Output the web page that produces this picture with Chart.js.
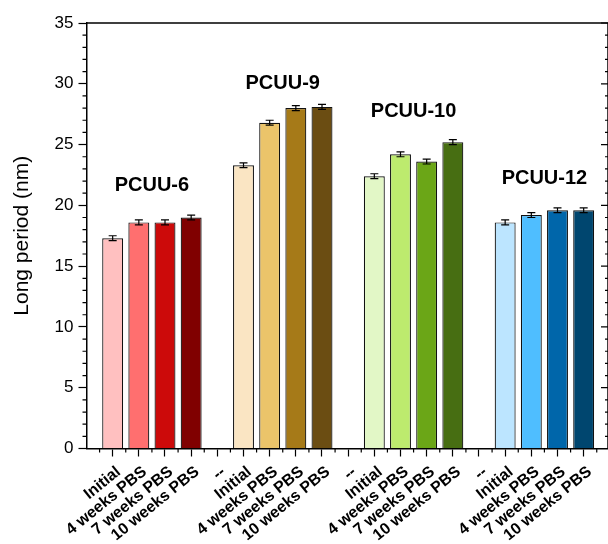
<!DOCTYPE html>
<html>
<head>
<meta charset="utf-8">
<script src="https://cdn.jsdelivr.net/npm/chart.js@4.4.1/dist/chart.umd.min.js"></script>
<style>
  html, body { margin: 0; padding: 0; background: #fff; }
  #wrap { width: 608px; height: 544px; }
</style>
</head>
<body>
<div id="wrap"><canvas id="chart" width="608" height="544"></canvas></div>
<script>
// categories along the x axis ("--" slots separate the groups)
const xLabels = [
    'Initial', '4 weeks PBS', '7 weeks PBS', '10 weeks PBS', '--',
    'Initial', '4 weeks PBS', '7 weeks PBS', '10 weeks PBS', '--',
    'Initial', '4 weeks PBS', '7 weeks PBS', '10 weeks PBS', '--',
    'Initial', '4 weeks PBS', '7 weeks PBS', '10 weeks PBS'
];
const groupNames = ['PCUU-6', 'PCUU-9', 'PCUU-10', 'PCUU-12'];

// long period (nm) per sample, and its error
const pcuu6 = [17.3, 18.6, 18.6, 19.0];
const pcuu9 = [23.3, 26.8, 28.0, 28.1];
const pcuu10 = [22.4, 24.2, 23.6, 25.2];
const pcuu12 = [18.6, 19.2, 19.6, 19.6];
const pcuu6Err = [0.2, 0.2, 0.2, 0.2];
const pcuu9Err = [0.2, 0.2, 0.2, 0.2];
const pcuu10Err = [0.2, 0.2, 0.2, 0.2];
const pcuu12Err = [0.2, 0.2, 0.2, 0.2];

const yTicks = [0, 5, 10, 15, 20, 25, 30, 35];
// height (in nm) where each group name sits
const groupLabelY = [21.6, 30.0, 27.7, 22.2];

const groupColors = [
    ['#FFC0C0', '#FF6F6F', '#CC0A0A', '#800000'],
    ['#FAE5C3', '#EBC46A', '#A67A18', '#6B4D12'],
    ['#E2F7C6', '#BDEB6E', '#6BA617', '#476E12'],
    ['#BCE5FF', '#4FBEFF', '#0066AA', '#00466F']
];

const groups = [pcuu6, pcuu9, pcuu10, pcuu12];
const groupErrs = [pcuu6Err, pcuu9Err, pcuu10Err, pcuu12Err];

const points = [];
const errs = [];
const colors = [];
groups.forEach((vals, g) => {
    vals.forEach((v, i) => {
        points.push({ x: g * 5 + i + 1, y: v });
        errs.push(groupErrs[g][i]);
        colors.push(groupColors[g][i]);
    });
});

const FONT = "'Liberation Sans', Arial, Helvetica, sans-serif";

const extras = {
    id: 'extras',
    afterDatasetsDraw(chart) {
        const { ctx, chartArea: a, scales: { x, y } } = chart;
        ctx.save();
        ctx.strokeStyle = '#000';

        // error bars
        ctx.lineWidth = 1.2;
        points.forEach((p, i) => {
            const px = x.getPixelForValue(p.x);
            const top = y.getPixelForValue(p.y + errs[i]);
            const bot = y.getPixelForValue(p.y - errs[i]);
            ctx.beginPath();
            ctx.moveTo(px, top); ctx.lineTo(px, bot);
            ctx.moveTo(px - 4, top); ctx.lineTo(px + 4, top);
            ctx.moveTo(px - 4, bot); ctx.lineTo(px + 4, bot);
            ctx.stroke();
        });

        // group names
        ctx.fillStyle = '#000';
        ctx.font = 'bold 20px ' + FONT;
        ctx.textAlign = 'center';
        ctx.textBaseline = 'middle';
        groupNames.forEach((name, g) => {
            ctx.fillText(name, x.getPixelForValue(g * 5 + 2.5), y.getPixelForValue(groupLabelY[g]));
        });

        // frame: top and right
        ctx.lineWidth = 1.5;
        ctx.beginPath();
        ctx.moveTo(a.left, a.top); ctx.lineTo(a.right, a.top);
        ctx.moveTo(a.right, a.top); ctx.lineTo(a.right, a.bottom);
        ctx.stroke();

        // minor ticks on y: outward left, inward right
        ctx.lineWidth = 1.2;
        ctx.beginPath();
        for (let v = 0; v <= 35; v++) {
            const py = y.getPixelForValue(v);
            const major = v % 5 === 0;
            if (!major) {
                ctx.moveTo(a.left - 4, py); ctx.lineTo(a.left, py);
            }
            ctx.moveTo(a.right, py); ctx.lineTo(a.right - (major ? 7 : 3), py);
        }
        // half-step ticks on x
        for (let v = 0.5; v < x.max; v += 1) {
            const px = x.getPixelForValue(v);
            ctx.moveTo(px, a.bottom); ctx.lineTo(px, a.bottom + 4);
        }
        ctx.stroke();
        ctx.restore();
    }
};

new Chart(document.getElementById('chart'), {
    type: 'bar',
    data: {
        datasets: [{
            data: points,
            backgroundColor: colors,
            borderColor: '#111',
            borderWidth: 1.2,
            barPercentage: 0.8,
            categoryPercentage: 1
        }]
    },
    options: {
        responsive: false,
        animation: false,
        layout: { padding: { top: 23, right: 0, left: 0, bottom: 0 } },
        plugins: { legend: { display: false }, tooltip: { enabled: false } },
        scales: {
            x: {
                type: 'linear',
                offset: false,
                min: 0,
                max: 19.93,
                afterBuildTicks: (scale) => {
                    scale.ticks = xLabels.map((_, i) => ({ value: i + 1 }));
                },
                afterFit: (scale) => { scale.height = 95.5; },
                border: { display: true, color: '#000', width: 1.5 },
                grid: { offset: false, drawOnChartArea: false, drawTicks: true, tickLength: 8, tickColor: '#000', tickWidth: 1.2 },
                ticks: {
                    autoSkip: false,
                    minRotation: 39,
                    maxRotation: 39,
                    padding: 6,
                    labelOffset: 6,
                    color: '#000',
                    font: { family: FONT, size: 16, weight: 'bold' },
                    callback: (v) => xLabels[v - 1] || ''
                }
            },
            y: {
                min: 0,
                max: 35,
                afterBuildTicks: (scale) => {
                    scale.ticks = yTicks.map(v => ({ value: v }));
                },
                afterFit: (scale) => { scale.width = 86.5; },
                border: { display: true, color: '#000', width: 1.5 },
                grid: { drawOnChartArea: false, drawTicks: true, tickLength: 8, tickColor: '#000', tickWidth: 1.2 },
                ticks: {
                    padding: 5,
                    color: '#000',
                    font: { family: FONT, size: 17 }
                },
                title: {
                    display: true,
                    text: 'Long period (nm)',
                    color: '#000',
                    font: { family: FONT, size: 21 },
                    padding: { top: 10, bottom: 0 }
                }
            }
        }
    },
    plugins: [extras]
});
</script>
</body>
</html>
